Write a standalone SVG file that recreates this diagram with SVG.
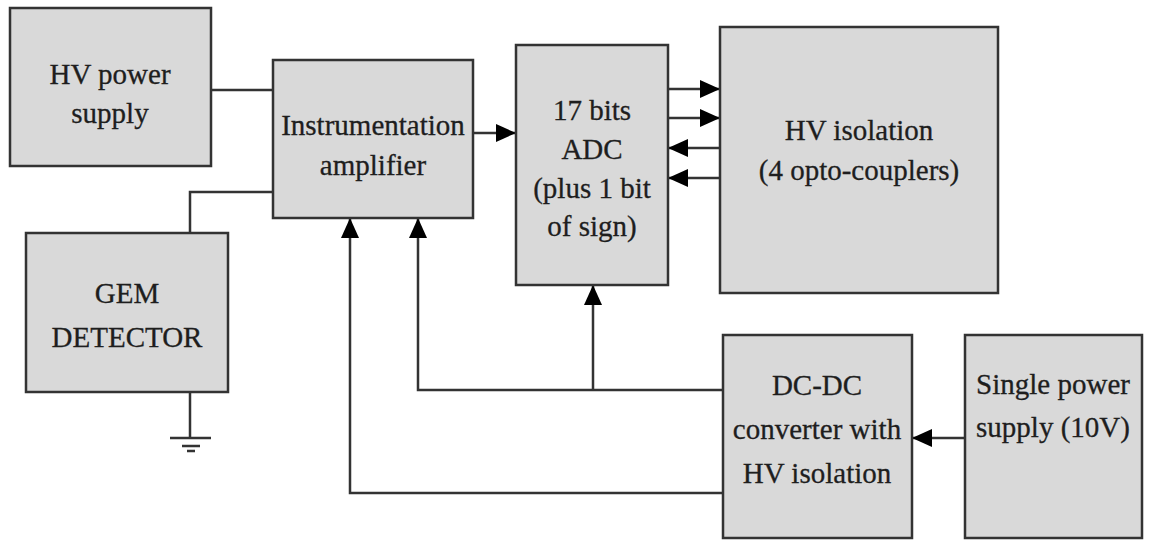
<svg xmlns="http://www.w3.org/2000/svg" width="1150" height="544" viewBox="0 0 1150 544">
<defs>
<style>
.box{fill:#d9d9d9;stroke:#333;stroke-width:2.5}
.ln{fill:none;stroke:#333;stroke-width:2.5}
.t{font-family:"Liberation Serif","Times New Roman",serif;font-size:29px;fill:#1e1e1e;stroke:#1e1e1e;stroke-width:0.3;text-anchor:middle}
</style>
<marker id="ahb" markerWidth="20" markerHeight="18" refX="19" refY="9" orient="auto" markerUnits="userSpaceOnUse" viewBox="0 0 20 18">
<path d="M0,0 L20,9 L0,18 z" fill="#000"/>
</marker>
</defs>
<rect width="1150" height="544" fill="#fff"/>
<g id="connectors">
<path class="ln" d="M211,90 H273"/>
<path class="ln" d="M273,192 H190 V233"/>
<path class="ln" d="M190,392 V438"/>
<path class="ln" d="M170,438 H211 M182,446 H200 M187,451 H195"/>
<path class="ln" d="M473,133 H515" marker-end="url(#ahb)"/>
<path class="ln" d="M668,89 H719" marker-end="url(#ahb)"/>
<path class="ln" d="M668,118 H719" marker-end="url(#ahb)"/>
<path class="ln" d="M720,148 H669" marker-end="url(#ahb)"/>
<path class="ln" d="M720,178 H669" marker-end="url(#ahb)"/>
<path class="ln" d="M723,390 H418 V219" marker-end="url(#ahb)"/>
<path class="ln" d="M593,390 V286" marker-end="url(#ahb)"/>
<path class="ln" d="M723,493 H350 V219" marker-end="url(#ahb)"/>
<path class="ln" d="M965,438 H913" marker-end="url(#ahb)"/>
</g>
<g id="hv-power-supply">
<rect class="box" x="10" y="8" width="201" height="158"/>
<text class="t" x="110" y="84">HV power</text>
<text class="t" x="110" y="123">supply</text>
</g>
<g id="instrumentation-amplifier">
<rect class="box" x="273" y="60" width="200" height="158"/>
<text class="t" x="373" y="135">Instrumentation</text>
<text class="t" x="373" y="175">amplifier</text>
</g>
<g id="gem-detector">
<rect class="box" x="26" y="233" width="202" height="159"/>
<text class="t" x="127" y="303">GEM</text>
<text class="t" x="127" y="347">DETECTOR</text>
</g>
<g id="adc">
<rect class="box" x="516" y="45" width="152" height="240"/>
<text class="t" x="592" y="120">17 bits</text>
<text class="t" x="592" y="159">ADC</text>
<text class="t" x="592" y="198">(plus 1 bit</text>
<text class="t" x="592" y="236">of sign)</text>
</g>
<g id="hv-isolation">
<rect class="box" x="720" y="27" width="278" height="266"/>
<text class="t" x="859" y="140">HV isolation</text>
<text class="t" x="859" y="180">(4 opto-couplers)</text>
</g>
<g id="dc-dc-converter">
<rect class="box" x="723" y="335" width="189" height="203"/>
<text class="t" x="817" y="395">DC-DC</text>
<text class="t" x="817" y="439">converter with</text>
<text class="t" x="817" y="483">HV isolation</text>
</g>
<g id="single-power-supply">
<rect class="box" x="965" y="335" width="177" height="203"/>
<text class="t" x="1053" y="394">Single power</text>
<text class="t" x="1053" y="437">supply (10V)</text>
</g>
</svg>
